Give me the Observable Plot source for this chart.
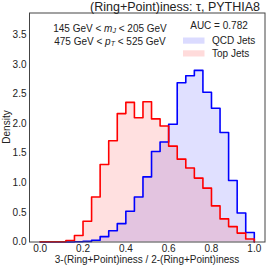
<!DOCTYPE html>
<html><head><meta charset="utf-8">
<script src="https://cdn.jsdelivr.net/npm/d3@7"></script>
<script src="https://cdn.jsdelivr.net/npm/@observablehq/plot@0.6"></script>
<style>
body{margin:0;background:#fff}
svg{font-family:"Liberation Sans",Arial,sans-serif}
</style>
</head><body><div id="chart"></div>
<script>
const binEdges = [0.00,0.04,0.08,0.12,0.16,0.20,0.24,0.28,0.32,0.36,0.40,0.44,0.48,0.52,0.56,0.60,0.64,0.68,0.72,0.76,0.80,0.84,0.88,0.92,0.96,1.00];
const qcdDensity = [0,0,0,0,0.005,0.01,0.03,0.09,0.19,0.31,0.52,0.76,1.10,1.53,1.69,1.99,2.69,2.81,2.90,2.53,2.26,1.85,1.04,0.49,0.16];
const topDensity = [0.003,0.003,0.005,0.025,0.11,0.35,0.76,1.31,1.71,2.17,2.36,2.10,2.37,2.08,1.96,1.62,1.40,1.25,1.08,0.91,0.61,0.39,0.26,0.15,0.05];
const xTicks = [0.0,0.2,0.4,0.6,0.8,1.0];
const yTicks = [0.0,0.5,1.0,1.5,2.0,2.5,3.0,3.5];
const titleText = "(Ring+Point)iness: \u03c4, PYTHIA8";
const xLabel = "3-(Ring+Point)iness / 2-(Ring+Point)iness";
const yLabel = "Density";
const aucText = "AUC = 0.782";
const seriesNames = ["QCD Jets", "Top Jets"];
const seriesColors = ["#0000ff", "#ff0000"];

function stepPoints(values) {
  const pts = [{x: binEdges[0], y: 0}];
  values.forEach((v, i) => pts.push({x: binEdges[i], y: v}));
  pts.push({x: binEdges[binEdges.length - 1], y: values[values.length - 1]});
  pts.push({x: binEdges[binEdges.length - 1], y: 0});
  return pts;
}
const qcdPts = stepPoints(qcdDensity);
const topPts = stepPoints(topDensity);

const plot = Plot.plot({
  width: 266, height: 266,
  marginLeft: 29, marginRight: 1.5, marginTop: 12.5, marginBottom: 24.5,
  style: {fontFamily: '"Liberation Sans", Arial, sans-serif', fontSize: "10px", color: "#222", background: "#fff"},
  x: {domain: [-0.05, 1.05], ticks: xTicks, tickFormat: d3.format(".1f"), tickSize: 0, tickPadding: 2.5, label: null},
  y: {domain: [0, 3.87], ticks: yTicks, tickFormat: d3.format(".1f"), tickSize: 0, tickPadding: 3, label: null},
  marks: [
    Plot.areaY(qcdPts, {x: "x", y: "y", curve: "step-after", fill: seriesColors[0], fillOpacity: 0.12}),
    Plot.areaY(topPts, {x: "x", y: "y", curve: "step-after", fill: seriesColors[1], fillOpacity: 0.12}),
    Plot.line(qcdPts, {x: "x", y: "y", curve: "step-after", stroke: seriesColors[0], strokeWidth: 1.6}),
    Plot.line(topPts, {x: "x", y: "y", curve: "step-after", stroke: seriesColors[1], strokeWidth: 1.6}),
    Plot.frame({stroke: "#444", strokeWidth: 1})
  ]
});

const svg = d3.select(plot);
function txt(x, y, s, anchor, size) {
  return svg.append("text").attr("x", x).attr("y", y).attr("text-anchor", anchor || "start")
    .attr("dominant-baseline", "central").attr("font-size", size || 10).attr("fill", "#222").text(s);
}
// title
txt(260, 6.5, titleText, "end", 12.5);
// axis labels
txt(147, 259.5, xLabel, "middle", 10);
svg.append("text").attr("transform", "translate(6.5,127) rotate(-90)").attr("text-anchor", "middle")
  .attr("dominant-baseline", "central").attr("font-size", 10).attr("fill", "#222").text(yLabel);
// cuts annotation
const t1 = svg.append("text").attr("x", 110).attr("y", 28).attr("text-anchor", "middle").attr("dominant-baseline", "central").attr("font-size", 10).attr("fill", "#222");
t1.append("tspan").text("145 GeV < ");
t1.append("tspan").attr("font-style", "italic").text("m");
t1.append("tspan").attr("font-style", "italic").attr("font-size", 7).attr("dy", 2).text("J");
t1.append("tspan").attr("dy", -2).text(" < 205 GeV");
const t2 = svg.append("text").attr("x", 110).attr("y", 40.5).attr("text-anchor", "middle").attr("dominant-baseline", "central").attr("font-size", 10).attr("fill", "#222");
t2.append("tspan").text("475 GeV < ");
t2.append("tspan").attr("font-style", "italic").text("p");
t2.append("tspan").attr("font-style", "italic").attr("font-size", 7).attr("dy", 2).text("T");
t2.append("tspan").attr("dy", -2).text(" < 525 GeV");
// legend
txt(219, 25, aucText, "middle", 10);
[0, 1].forEach(i => {
  const y = 40.5 + i * 12.8;
  svg.append("rect").attr("x", 183).attr("y", y - 3).attr("width", 21.5).attr("height", 6.2)
    .attr("fill", seriesColors[i]).attr("fill-opacity", 0.14);
  txt(212, y, seriesNames[i], "start", 10);
});
document.getElementById("chart").appendChild(plot);
</script>
</body></html>
